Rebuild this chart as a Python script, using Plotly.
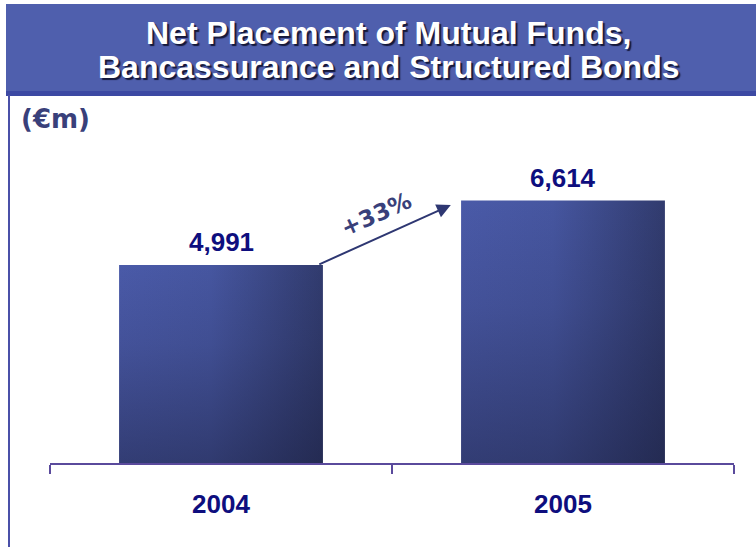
import plotly.graph_objects as go

# Chart data
years = ["2004", "2005"]
placements = [4991, 6614]          # net placement, EUR millions
value_labels = ["4,991", "6,614"]
title_lines = ["Net Placement of Mutual Funds,", "Bancassurance and Structured Bonds"]
unit_label = "(€m)"

# Page geometry (pixels)
W, H = 756, 547
ML, MR, MT, MB = 50, 22, 150, 84
PW, PH = W - ML - MR, H - MT - MB


def px(xp):
    """Pixel x -> paper x."""
    return (xp - ML) / PW


def py(yp):
    """Pixel y (from top) -> paper y."""
    return (H - MB - yp) / PH


NAVY = "#0E0E7E"
SLATE = "#39407A"
AXIS = "#5A4A9C"
BAR_HALF = 0.298
FONT = "Liberation Sans, Arial, sans-serif"
VFONT = "DejaVu Sans, Verdana, sans-serif"

fig = go.Figure()

# Bars as filled outlines with a diagonal-looking shading (two gradient layers)
for i, v in enumerate(placements):
    xs = [i - BAR_HALF, i + BAR_HALF, i + BAR_HALF, i - BAR_HALF, i - BAR_HALF]
    ys = [0, 0, v, v, 0]
    fig.add_trace(go.Scatter(
        x=xs, y=ys, mode="lines", fill="toself", line=dict(width=0),
        fillgradient=dict(type="horizontal",
                          colorscale=[[0, "#4A5AA8"], [0.45, "#4656A0"], [1, "#313B6E"]]),
        hoverinfo="skip", showlegend=False))
    fig.add_trace(go.Scatter(
        x=xs, y=ys, mode="lines", fill="toself", line=dict(width=0),
        fillgradient=dict(type="vertical",
                          colorscale=[[0, "rgba(18,20,44,0.42)"], [0.6, "rgba(18,20,44,0.12)"],
                                      [1, "rgba(18,20,44,0)"]]),
        hoverinfo="skip", showlegend=False))

annotations = []

# Value labels above the bars
for i, (v, t) in enumerate(zip(placements, value_labels)):
    annotations.append(dict(
        x=i, y=v, xref="x", yref="y", text=t, showarrow=False,
        xanchor="center", yanchor="bottom", yshift=6,
        font=dict(family=FONT, size=26, color=NAVY, weight="bold")))

# Growth arrow between the bars
tail_x, tail_y = BAR_HALF - 0.015, placements[0]
head_x, head_y = 1 - BAR_HALF - 0.03, placements[1] * 0.983
annotations.append(dict(
    x=head_x, y=head_y, ax=tail_x, ay=tail_y, xref="x", yref="y", axref="x", ayref="y",
    text="", showarrow=True, arrowhead=2, arrowsize=1.4, arrowwidth=2, arrowcolor="#2E3772"))

growth = round((placements[1] / placements[0] - 1) * 100)
annotations.append(dict(
    x=(tail_x + head_x) / 2, y=(tail_y + head_y) / 2, xref="x", yref="y",
    text=f"+{growth}%", showarrow=False, textangle=-24, xshift=-8, yshift=21,
    font=dict(family=VFONT, size=23, color=SLATE, weight="bold")))

# Title banner text
for line, yp in zip(title_lines, [33, 67]):
    annotations.append(dict(
        x=px(388), y=py(yp), xref="paper", yref="paper", text=line, showarrow=False,
        xanchor="center", yanchor="middle",
        font=dict(family=FONT, size=32, color="white", weight="bold",
                  shadow="2px 2px 1px #15183A")))

# Unit label
annotations.append(dict(
    x=px(19), y=py(119), xref="paper", yref="paper", text=unit_label, showarrow=False,
    xanchor="left", yanchor="middle",
    font=dict(family=VFONT, size=26, color=SLATE, weight="bold")))

shapes = [
    dict(type="rect", xref="paper", yref="paper", x0=px(6), x1=px(756), y0=py(92), y1=py(4),
         fillcolor="#4F5FAD", line=dict(width=0), layer="below"),
    dict(type="rect", xref="paper", yref="paper", x0=px(6), x1=px(756), y0=py(96), y1=py(91),
         fillcolor="#3C49A3", line=dict(width=0), layer="below"),
    dict(type="line", xref="paper", yref="paper", x0=px(9), x1=px(9), y0=py(95), y1=py(547),
         line=dict(color="#4A50A8", width=2), layer="below"),
]

fig.update_layout(
    width=W, height=H, margin=dict(l=ML, r=MR, t=MT, b=MB),
    paper_bgcolor="white", plot_bgcolor="white",
    showlegend=False, annotations=annotations, shapes=shapes,
    xaxis=dict(range=[-0.5, 1.5], tickmode="array", tickvals=[0, 1], ticktext=years,
               ticks="", showgrid=False, zeroline=False, showline=True,
               linecolor=AXIS, linewidth=2, ticklabelstandoff=17,
               tickfont=dict(family=FONT, size=26, color=NAVY, weight="bold"),
               minor=dict(tickmode="array", tickvals=[-0.5, 0.5, 1.5], ticks="outside",
                          ticklen=9, tickwidth=2, tickcolor=AXIS, showgrid=False),
               fixedrange=True),
    yaxis=dict(range=[0, 7890], visible=False, fixedrange=True),
)

fig.write_html("out.html")
